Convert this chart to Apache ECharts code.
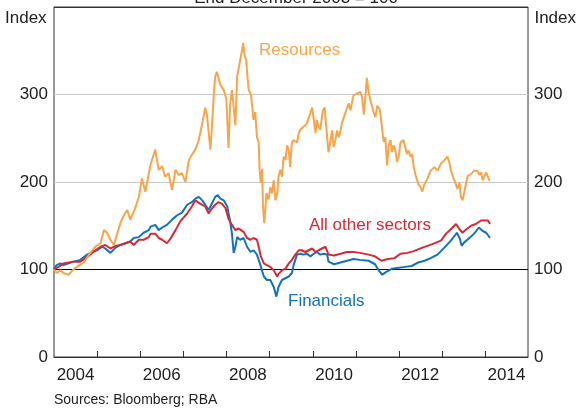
<!DOCTYPE html>
<html><head><meta charset="utf-8">
<script src="https://cdn.jsdelivr.net/npm/echarts@6/dist/echarts.min.js"></script>
<style>html,body{margin:0;padding:0;background:#fff}#c{width:576px;height:409px}</style>
</head><body><div id="c"></div>
<script>
// ---- data (decimal years, index End December 2003 = 100) ----
const resourcesYears = [2004.00,2004.06,2004.15,2004.25,2004.34,2004.45,2004.53,2004.69,2004.84,2004.96,2005.08,2005.16,2005.23,2005.31,2005.39,2005.46,2005.54,2005.62,2005.70,2005.77,2005.89,2005.97,2006.04,2006.12,2006.24,2006.35,2006.43,2006.51,2006.58,2006.66,2006.74,2006.82,2006.89,2006.97,2007.05,2007.13,2007.20,2007.28,2007.36,2007.44,2007.51,2007.55,2007.63,2007.67,2007.71,2007.74,2007.78,2007.86,2007.94,2008.00,2008.05,2008.09,2008.13,2008.17,2008.21,2008.25,2008.29,2008.36,2008.39,2008.42,2008.46,2008.49,2008.52,2008.57,2008.60,2008.63,2008.67,2008.71,2008.75,2008.77,2008.80,2008.83,2008.85,2008.88,2008.93,2008.98,2009.02,2009.06,2009.10,2009.14,2009.18,2009.21,2009.25,2009.29,2009.33,2009.37,2009.41,2009.45,2009.48,2009.52,2009.56,2009.64,2009.68,2009.72,2009.79,2009.87,2009.95,2009.99,2010.03,2010.07,2010.10,2010.14,2010.18,2010.24,2010.28,2010.34,2010.37,2010.41,2010.45,2010.49,2010.53,2010.57,2010.61,2010.65,2010.68,2010.76,2010.84,2010.88,2010.95,2011.03,2011.11,2011.15,2011.19,2011.23,2011.26,2011.30,2011.34,2011.38,2011.42,2011.46,2011.50,2011.56,2011.61,2011.65,2011.69,2011.73,2011.77,2011.81,2011.84,2011.88,2011.92,2011.96,2012.00,2012.04,2012.11,2012.15,2012.19,2012.23,2012.27,2012.31,2012.35,2012.39,2012.43,2012.46,2012.51,2012.55,2012.59,2012.66,2012.74,2012.83,2012.90,2012.98,2013.06,2013.13,2013.18,2013.21,2013.29,2013.33,2013.36,2013.41,2013.44,2013.48,2013.52,2013.56,2013.60,2013.64,2013.68,2013.75,2013.83,2013.87,2013.91,2013.95,2014.03,2014.07,2014.10,2014.12];
const resourcesValues = [100,96,99,95,94,100,103,108,119,126,130,145,142,134,128,140,153,162,168,157,171,183,204,189,220,237,214,218,206,210,191,214,208,210,200,225,231,237,248,267,285,276,237,267,302,320,326,311,305,295,239,290,305,307,265,320,331,350,359,345,339,320,305,300,286,271,280,251,245,214,199,215,171,153,187,180,194,187,202,179,187,206,214,206,229,225,242,236,217,245,248,245,256,260,263,267,279,285,271,256,271,263,260,282,285,251,234,245,259,240,248,259,251,259,267,279,290,282,299,301,303,297,277,299,319,303,294,287,279,274,287,283,263,246,251,219,242,248,234,242,237,223,229,245,248,240,232,236,229,232,217,208,206,197,194,189,197,203,213,217,213,221,225,229,221,213,202,197,192,199,184,179,188,198,207,206,209,213,213,208,211,202,211,209,202,202];

const othersYears = [2004.00,2004.11,2004.22,2004.34,2004.45,2004.61,2004.73,2004.84,2004.96,2005.08,2005.19,2005.31,2005.43,2005.54,2005.66,2005.77,2005.85,2005.97,2006.08,2006.20,2006.24,2006.35,2006.43,2006.51,2006.62,2006.70,2006.82,2006.93,2007.09,2007.20,2007.28,2007.40,2007.51,2007.59,2007.67,2007.74,2007.82,2007.90,2007.98,2008.05,2008.13,2008.21,2008.28,2008.32,2008.40,2008.48,2008.56,2008.63,2008.71,2008.75,2008.80,2008.87,2008.94,2009.02,2009.10,2009.18,2009.21,2009.29,2009.37,2009.45,2009.52,2009.60,2009.68,2009.75,2009.83,2009.91,2009.99,2010.07,2010.14,2010.22,2010.30,2010.37,2010.41,2010.50,2010.65,2010.80,2010.95,2011.10,2011.30,2011.45,2011.60,2011.75,2011.90,2012.04,2012.20,2012.35,2012.55,2012.78,2012.98,2013.10,2013.25,2013.33,2013.41,2013.48,2013.57,2013.68,2013.79,2013.91,2014.00,2014.07,2014.12];
const othersValues = [100,103,107,108,109,109,113,117,122,126,128,124,127,128,130,132,128,134,134,137,141,141,136,134,130,135,145,155,164,172,179,175,172,164,170,174,177,175,170,158,151,145,147,149,143,136,134,136,134,126,115,107,105,103,99,92,95,99,101,107,111,117,122,122,120,122,124,120,122,124,126,117,115,116,118,120,120,119,117,115,110,112,113,118,119,121,125,129,133,141,148,152,146,142,146,150,152,156,156,156,152];

const financialsYears = [2004.00,2004.06,2004.15,2004.22,2004.34,2004.45,2004.61,2004.77,2004.88,2005.00,2005.12,2005.19,2005.31,2005.43,2005.54,2005.66,2005.77,2005.85,2005.97,2006.08,2006.20,2006.24,2006.35,2006.43,2006.51,2006.62,2006.74,2006.86,2006.97,2007.09,2007.20,2007.28,2007.36,2007.44,2007.51,2007.59,2007.67,2007.74,2007.80,2007.86,2007.94,2008.02,2008.08,2008.13,2008.17,2008.21,2008.25,2008.32,2008.40,2008.48,2008.56,2008.63,2008.71,2008.79,2008.87,2008.94,2009.02,2009.10,2009.16,2009.21,2009.29,2009.37,2009.45,2009.52,2009.56,2009.64,2009.72,2009.79,2009.87,2009.95,2010.03,2010.10,2010.18,2010.26,2010.34,2010.37,2010.41,2010.50,2010.65,2010.80,2010.95,2011.10,2011.30,2011.45,2011.55,2011.62,2011.70,2011.85,2012.00,2012.15,2012.30,2012.45,2012.60,2012.74,2012.90,2013.06,2013.21,2013.35,2013.42,2013.46,2013.52,2013.64,2013.75,2013.86,2013.95,2014.03,2014.07,2014.12];
const financialsValues = [100,105,107,105,107,109,111,117,120,122,126,124,119,125,128,130,132,136,137,142,145,149,151,145,148,151,157,162,165,174,177,181,183,179,174,168,176,183,185,181,179,172,157,141,119,126,137,134,136,126,120,122,117,105,92,88,88,80,69,80,88,90,92,96,105,117,118,117,118,115,118,120,117,118,117,109,107,106,108,110,112,111,110,106,98,94,97,101,102,103,104,108,110,113,117,125,133,142,135,127,131,136,141,148,144,142,143,136];

const yTickValues = [0, 100, 200, 300];
const xLabelYears = [2004, 2006, 2008, 2010, 2012, 2014];
const xTickYears = [2005, 2006, 2007, 2008, 2009, 2010, 2011, 2012, 2013, 2014];

function pairs(xs, ys) { return xs.map((x, i) => [x, ys[i]]); }

const FONT = 'Liberation Sans, Arial, sans-serif';
const C_RES = '#F7A54B', C_OTH = '#D42A35', C_FIN = '#1472BC';

const chart = echarts.init(document.getElementById('c'), null, { renderer: 'canvas' });
const yAxisCommon = {
  type: 'value', min: 0, max: 400, interval: 100,
  axisLine: { show: false }, axisTick: { show: false },
  axisLabel: { color: '#222', fontSize: 17, fontFamily: FONT, margin: 6,
    formatter: v => yTickValues.indexOf(v) >= 0 ? String(v) : '' }
};
const texts = [
  { type: 'text', x: 296, y: -10, style: { text: 'End December 2003 = 100', fontSize: 17, fontFamily: FONT, fill: '#222', textAlign: 'center', textVerticalAlign: 'top' } },
  { type: 'text', x: 5, y: 18, style: { text: 'Index', fontSize: 17, fontFamily: FONT, fill: '#222', textAlign: 'left', textVerticalAlign: 'middle' } },
  { type: 'text', x: 576, y: 18, style: { text: 'Index', fontSize: 17, fontFamily: FONT, fill: '#222', textAlign: 'right', textVerticalAlign: 'middle' } },
  { type: 'text', x: 259, y: 50, style: { text: 'Resources', fontSize: 17, fontFamily: FONT, fill: C_RES, textAlign: 'left', textVerticalAlign: 'middle' } },
  { type: 'text', x: 309, y: 225, style: { text: 'All other sectors', fontSize: 17, fontFamily: FONT, fill: C_OTH, textAlign: 'left', textVerticalAlign: 'middle' } },
  { type: 'text', x: 288, y: 301, style: { text: 'Financials', fontSize: 17, fontFamily: FONT, fill: C_FIN, textAlign: 'left', textVerticalAlign: 'middle' } },
  { type: 'text', x: 54, y: 400, style: { text: 'Sources: Bloomberg; RBA', fontSize: 14, fontFamily: FONT, fill: '#222', textAlign: 'left', textVerticalAlign: 'middle' } }
];
chart.setOption({
  animation: false,
  grid: { left: 54, right: 48, top: 7, bottom: 52, show: true, borderColor: '#333', borderWidth: 1, backgroundColor: 'transparent' },
  xAxis: {
    type: 'value', min: 2004, max: 2015, interval: 1,
    axisLine: { show: true, lineStyle: { color: '#333', width: 1 } },
    axisTick: { show: false },
    axisLabel: { color: '#222', fontSize: 17, fontFamily: FONT, margin: 10,
      customValues: xLabelYears.map(y => y + 0.5), formatter: v => String(Math.floor(v)) },
    splitLine: { show: false }
  },
  yAxis: [
    Object.assign({}, yAxisCommon, { position: 'left',
      splitLine: { show: true, lineStyle: { color: ['#333', '#000', '#c8c8c8', '#c8c8c8', '#333'], width: 1 } } }),
    Object.assign({}, yAxisCommon, { position: 'right', splitLine: { show: false } })
  ],
  series: [
    { name: 'Financials', type: 'line', data: pairs(financialsYears, financialsValues), showSymbol: false, symbol: 'none',
      lineStyle: { color: C_FIN, width: 2 }, itemStyle: { color: C_FIN } },
    { name: 'All other sectors', type: 'line', data: pairs(othersYears, othersValues), showSymbol: false, symbol: 'none',
      lineStyle: { color: C_OTH, width: 2 }, itemStyle: { color: C_OTH } },
    { name: 'Resources', type: 'line', data: pairs(resourcesYears, resourcesValues), showSymbol: false, symbol: 'none',
      lineStyle: { color: C_RES, width: 2 }, itemStyle: { color: C_RES } }
  ],
  graphic: texts
});
// year tick marks, positioned through the chart's own x scale
const tickMarks = xTickYears.map((yr, i) => {
  const p = chart.convertToPixel({ xAxisIndex: 0, yAxisIndex: 0 }, [yr, 0]);
  const x = Math.round(p[0]) + 0.5;
  return { type: 'line', id: 'tick' + i, z: 100, silent: true,
    shape: { x1: x, y1: p[1], x2: x, y2: p[1] - 6 }, style: { stroke: '#333', lineWidth: 1 } };
});
chart.setOption({ graphic: texts.concat(tickMarks) });
</script></body></html>
